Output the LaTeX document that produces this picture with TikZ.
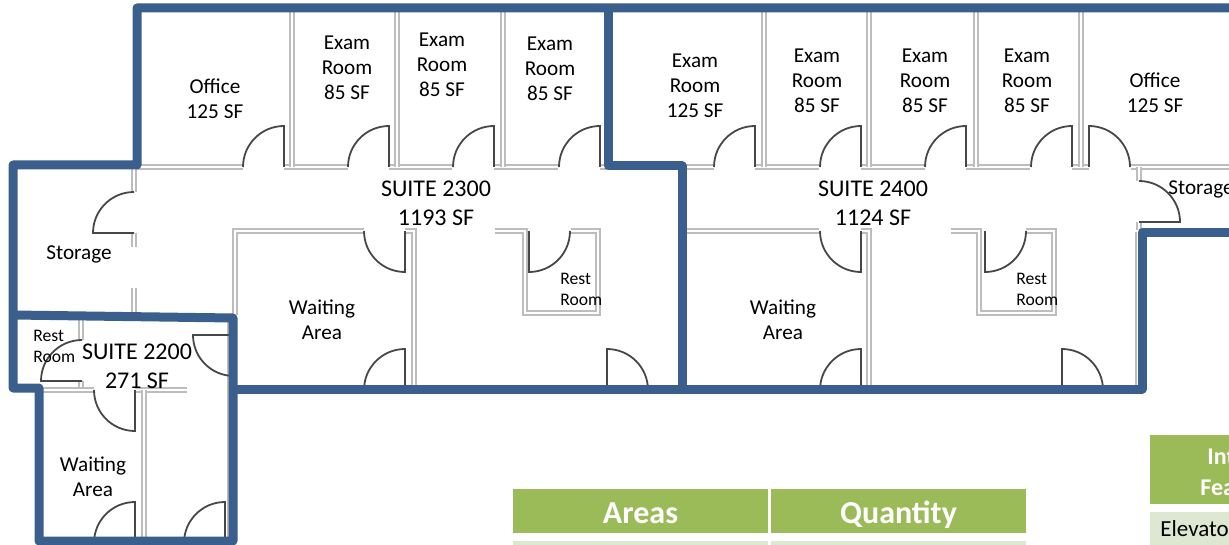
\documentclass[tikz,border=0pt]{standalone}
\usepackage{fontspec}
\setmainfont{Carlito}
\definecolor{wallblue}{HTML}{3A5F8C}
\definecolor{headgreen}{HTML}{9BBB59}
\definecolor{rowgreen}{HTML}{DEE7D1}
\definecolor{partgray}{HTML}{BDBDBD}
\newcommand{\doorswing}[3]{\draw[doorline] (#1) -- ++(#2:41) arc[start angle=#2,end angle=#3,radius=41];}

\begin{document}
\begin{tikzpicture}[x=0.5pt,y=-0.5pt]
\tikzset{
  wall/.style={draw=wallblue, line width=4.5pt, line join=round},
  partition/.style={draw=partgray, line width=0.8pt, double=white, double distance=1.2pt},
  edgeline/.style={draw=partgray, line width=0.6pt},
  doorline/.style={draw=black!72, line width=0.9pt},
  roomlabel/.style={align=center, inner sep=0pt, font=\fontsize{10.6}{12.6}\selectfont},
  suitelabel/.style={align=center, inner sep=0pt, font=\fontsize{12}{14.5}\selectfont},
  restlabel/.style={align=left, anchor=west, inner sep=0pt, font=\fontsize{8.8}{10.5}\selectfont},
  headcell/.style={fill=headgreen, text=white, inner sep=0pt, text height=15pt, text depth=3pt, minimum width=127.5pt, minimum height=22pt, font=\fontsize{16}{17}\selectfont\bfseries},
  infolabel/.style={text=white, inner sep=0pt, anchor=west, font=\fontsize{12}{14}\selectfont\bfseries},
  rowcell/.style={fill=rowgreen, inner sep=0pt},
}
\clip (0,0) rectangle (1229,545);

% top row
\draw[partition] (137,167) -- (243,167);
\draw[partition] (284,167) -- (348,167);
\draw[partition] (389,167) -- (452,167);
\draw[partition] (494,167) -- (558,167);
\draw[partition] (600,167) -- (608,167);
\draw[partition] (682,167) -- (714,167);
\draw[partition] (755,167) -- (819,167);
\draw[partition] (861,167) -- (925,167);
\draw[partition] (966,167) -- (1030,167);
\draw[partition] (1072,167) -- (1089,167);
\draw[partition] (1131,167) -- (1235,167);
\draw[partition] (292,8) -- (292,167);
\draw[partition] (397,8) -- (397,167);
\draw[partition] (503,8) -- (503,167);
\draw[partition] (764,8) -- (764,167);
\draw[partition] (869,8) -- (869,167);
\draw[partition] (976,8) -- (976,167);
\draw[partition] (1081,8) -- (1081,167);

% storage
\draw[partition] (134,167) -- (134,192);
\draw[partition] (134,233) -- (134,247);
\draw[partition] (134,288) -- (134,315);
\draw[partition] (1139,167) -- (1139,181);
\draw[partition] (1139,222) -- (1139,230);

% suite 2300
\draw[partition] (235,315) -- (235,231) -- (364,231);
\draw[partition] (405,231) -- (414,231) -- (414,389);
\draw[partition] (495,231) -- (525,231) -- (525,313) -- (598,313) -- (598,231) -- (571,231);

% suite 2400
\draw[partition] (682,231) -- (819,231);
\draw[partition] (861,231) -- (869,231) -- (869,389);
\draw[partition] (951,231) -- (979,231) -- (979,313) -- (1054,313) -- (1054,231) -- (1026,231);
\draw[edgeline] (1136,232) -- (1136,389);

% suite 2200
\draw[partition] (81,318) -- (81,340);
\draw[partition] (81,381) -- (81,390);
\draw[partition] (41,390) -- (94,390);
\draw[partition] (135,390) -- (187,390);
\draw[partition] (144,390) -- (144,541);
\draw[edgeline] (228,318) -- (228,541);

\doorswing{284,167}{270}{180}
\doorswing{389,167}{270}{180}
\doorswing{494,167}{270}{180}
\doorswing{600,167}{270}{180}
\doorswing{755,167}{270}{180}
\doorswing{861,167}{270}{180}
\doorswing{966,167}{270}{180}
\doorswing{1072,167}{270}{180}
\doorswing{1089,167}{270}{360}
\doorswing{134,233}{180}{270}
\doorswing{1139,222}{0}{-90}
\doorswing{405,231}{90}{180}
\doorswing{529,231}{90}{0}
\doorswing{405,390}{270}{180}
\doorswing{607,390}{270}{360}
\doorswing{861,231}{90}{180}
\doorswing{985,231}{90}{0}
\doorswing{861,390}{270}{180}
\doorswing{1062,390}{270}{360}
\doorswing{82,381}{180}{270}
\doorswing{135,390}{90}{180}
\doorswing{234,335}{180}{90}
\doorswing{135,543}{270}{180}
\doorswing{225,543}{270}{180}

\draw[wall] (1235,8) -- (137,8) -- (137,165) -- (13,165) -- (13,388) -- (39,388) -- (39,541) -- (233,541) -- (233,318) -- (13,315);
\draw[wall] (608,8) -- (608,166) -- (682,166) -- (682,389);
\draw[wall] (233,389) -- (1142,389) -- (1142,232) -- (1235,232);

\node[roomlabel] (office1) at (215,99) {Office\\125 SF};
\node[roomlabel] (exam1) at (347,68) {Exam\\Room\\85 SF};
\node[roomlabel] (exam2) at (442,65) {Exam\\Room\\85 SF};
\node[roomlabel] (exam3) at (550,69) {Exam\\Room\\85 SF};
\node[roomlabel] (exam4) at (695,86) {Exam\\Room\\125 SF};
\node[roomlabel] (exam5) at (817,81) {Exam\\Room\\85 SF};
\node[roomlabel] (exam6) at (925,81) {Exam\\Room\\85 SF};
\node[roomlabel] (exam7) at (1027,81) {Exam\\Room\\85 SF};
\node[roomlabel] (office2) at (1155,93) {Office\\125 SF};
\node[roomlabel] (storage1) at (79,254) {Storage};
\node[roomlabel, anchor=west] (storage2) at (1168,189) {Storage};
\node[roomlabel] (waiting1) at (322,320) {Waiting\\Area};
\node[roomlabel] (waiting2) at (783,320) {Waiting\\Area};
\node[roomlabel] (waiting3) at (93,477) {Waiting\\Area};
\node[suitelabel] (suite2300) at (436,203) {SUITE 2300\\1193 SF};
\node[suitelabel] (suite2400) at (873,203) {SUITE 2400\\1124 SF};
\node[suitelabel] (suite2200) at (137,366) {SUITE 2200\\271 SF};
\node[restlabel] (rest1) at (560,289) {Rest\\Room};
\node[restlabel] (rest2) at (1016,289) {Rest\\Room};
\node[restlabel] (rest3) at (33,346) {Rest\\Room};

% tables
\node[headcell] (areas) at (640.5,511) {Areas};
\node[headcell] (quantity) at (898.5,511) {Quantity};
\node[rowcell, minimum width=127.5pt, minimum height=6pt] (row1) at (640.5,547) {};
\node[rowcell, minimum width=127.5pt, minimum height=6pt] (row2) at (898.5,547) {};
\node[fill=headgreen, minimum width=45pt, minimum height=34.5pt, inner sep=0pt, anchor=north west] (infohead) at (1150,435) {};
\node[rowcell, minimum width=45pt, minimum height=20pt, anchor=north west] (inforow) at (1150,512) {};
\node[infolabel] (info1) at (1207,457) {Int};
\node[infolabel] (info2) at (1200,488) {Fea};
\node[anchor=west, inner sep=0pt, font=\fontsize{11.5}{13}\selectfont] (elevator) at (1160,529) {Elevato};
\end{tikzpicture}
\end{document}
